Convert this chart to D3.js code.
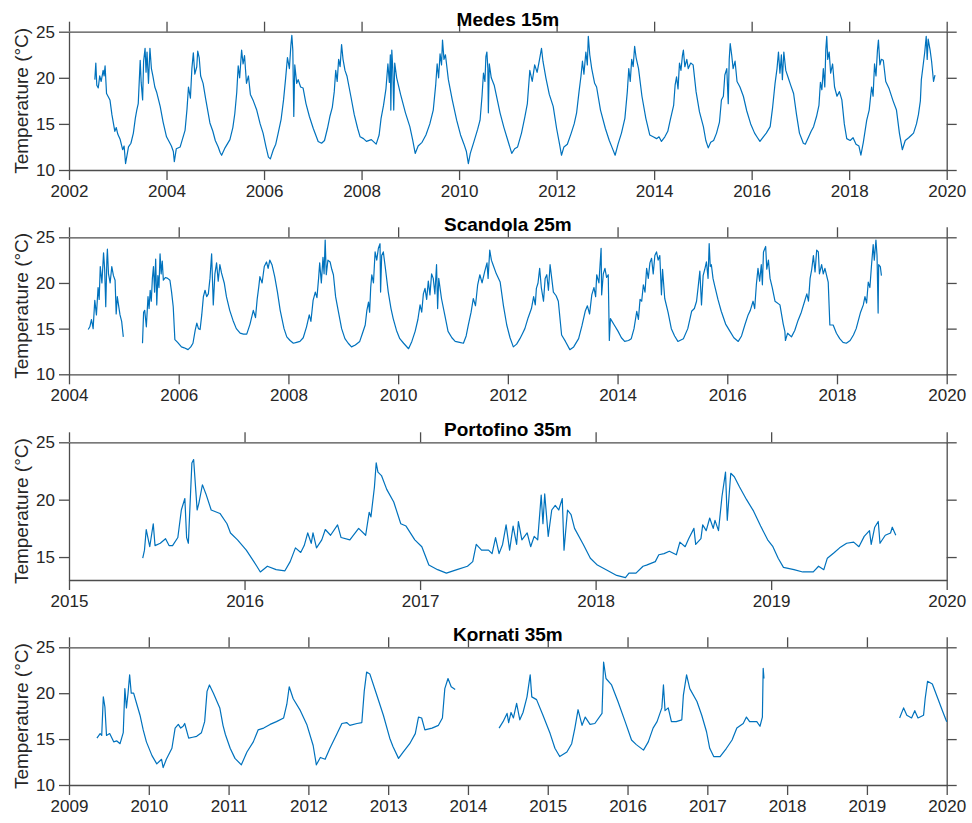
<html>
    <head>
        <style>
        body {
            margin: 0;
            background: white;
        }

        svg {
            font-family: "Liberation Sans", Arial, Helvetica, sans-serif;
        }

        .axis .domain, .axis .tick line {
            stroke: #4d4d4d;
            stroke-width: 1.3;
        }

        .axis text {
            fill: #262626;
            font-size: 17px;
        }

        .title {
            font-weight: bold;
            font-size: 19px;
            fill: #000;
        }

        .ylabel {
            font-size: 19px;
            fill: #262626;
        }
        </style>
    </head>
    <body>
        <div id="chart"></div>
        <script src="https://d3js.org/d3.v7.min.js"></script>
        <script>

            // [decimal year, temperature], null = gap in the record
            let medes = [
                [2002.53,19.8],[2002.55,21.6],[2002.57,19.2],[2002.6,18.9],[2002.63,20.2],[2002.66,19.6],[2002.7,20.8],[2002.72,20.2],[2002.74,21.3],[2002.77,18.3],[2002.8,18.0],[2002.84,17.6],[2002.88,16.0],[2002.94,14.2],[2002.97,14.6],[2003.0,13.9],[2003.05,13.3],[2003.1,12.2],[2003.13,12.6],[2003.16,10.7],[2003.22,12.5],[2003.27,12.9],[2003.32,14.0],[2003.36,15.6],[2003.39,16.5],[2003.42,17.2],[2003.46,21.9],[2003.48,19.5],[2003.51,17.6],[2003.53,21.8],[2003.56,23.2],[2003.58,20.6],[2003.6,22.8],[2003.63,19.4],[2003.66,23.2],[2003.69,21.0],[2003.72,20.2],[2003.76,19.0],[2003.8,18.4],[2003.87,16.9],[2003.93,15.2],
                [2004.0,13.6],[2004.06,13.0],[2004.1,12.6],[2004.14,12.0],[2004.16,10.9],[2004.2,12.3],[2004.28,12.5],[2004.33,13.4],[2004.38,14.3],[2004.42,16.6],[2004.45,19.0],[2004.49,17.8],[2004.52,21.0],[2004.55,22.7],[2004.58,20.4],[2004.62,21.2],[2004.64,22.9],[2004.67,22.2],[2004.7,20.2],[2004.75,19.4],[2004.8,17.8],[2004.89,15.1],[2004.95,14.2],
                [2005.0,13.2],[2005.06,12.5],[2005.1,11.9],[2005.13,11.6],[2005.2,12.4],[2005.3,13.3],[2005.36,14.6],[2005.4,16.1],[2005.44,18.4],[2005.47,21.3],[2005.5,20.0],[2005.54,23.0],[2005.57,21.5],[2005.6,22.4],[2005.64,19.4],[2005.68,20.2],[2005.72,18.2],[2005.78,17.5],[2005.85,16.5],[2005.92,15.0],[2005.98,14.0],
                [2006.04,12.5],[2006.09,11.4],[2006.13,11.2],[2006.19,12.2],[2006.24,12.8],[2006.29,14.0],[2006.35,15.5],[2006.4,17.6],[2006.44,19.8],[2006.48,22.2],[2006.52,21.0],[2006.55,23.5],[2006.57,24.6],[2006.59,23.0],[2006.61,15.8],[2006.63,21.4],[2006.67,19.4],[2006.7,19.8],[2006.75,19.0],[2006.8,18.9],[2006.86,17.2],[2006.93,15.8],
                [2007.01,14.5],[2007.06,13.8],[2007.11,13.1],[2007.18,12.9],[2007.24,13.2],[2007.3,14.5],[2007.35,15.8],[2007.4,16.8],[2007.44,18.5],[2007.47,20.8],[2007.5,19.6],[2007.53,22.0],[2007.56,21.2],[2007.59,23.6],[2007.62,22.0],[2007.66,20.8],[2007.7,20.2],[2007.78,18.0],[2007.85,16.0],[2007.92,14.5],[2007.97,13.6],
                [2008.04,13.4],[2008.1,13.1],[2008.2,13.3],[2008.3,12.8],[2008.36,13.8],[2008.4,15.6],[2008.45,17.0],[2008.5,18.8],[2008.54,21.5],[2008.57,19.5],[2008.59,22.5],[2008.6,16.5],[2008.62,23.0],[2008.64,21.0],[2008.66,16.5],[2008.68,21.6],[2008.72,20.0],[2008.8,18.2],[2008.9,16.2],[2008.99,14.7],
                [2009.05,13.2],[2009.1,11.8],[2009.16,12.6],[2009.24,13.0],[2009.32,13.8],[2009.4,15.0],[2009.47,16.5],[2009.52,19.2],[2009.55,21.5],[2009.58,20.0],[2009.61,22.6],[2009.64,21.4],[2009.66,24.1],[2009.69,22.0],[2009.72,22.5],[2009.78,19.8],[2009.86,17.6],[2009.95,15.4],
                [2010.03,13.8],[2010.1,12.8],[2010.15,12.0],[2010.19,10.7],[2010.23,11.8],[2010.3,13.0],[2010.38,14.4],[2010.43,15.4],[2010.47,18.0],[2010.5,20.5],[2010.53,19.6],[2010.55,22.3],[2010.57,22.8],[2010.59,21.0],[2010.6,16.2],[2010.62,21.5],[2010.66,20.0],[2010.72,19.2],[2010.84,16.2],[2010.92,14.6],
                [2011.0,13.2],[2011.08,11.8],[2011.14,12.3],[2011.2,12.5],[2011.28,14.0],[2011.35,15.8],[2011.4,17.2],[2011.45,20.8],[2011.5,19.6],[2011.55,21.4],[2011.6,20.6],[2011.65,22.0],[2011.69,23.2],[2011.72,21.8],[2011.78,20.0],[2011.85,18.2],[2011.93,16.9],
                [2012.0,14.5],[2012.06,12.8],[2012.1,11.6],[2012.15,12.5],[2012.22,12.8],[2012.3,14.0],[2012.36,15.0],[2012.41,16.2],[2012.46,18.5],[2012.5,20.2],[2012.53,21.8],[2012.56,20.4],[2012.6,22.8],[2012.63,21.4],[2012.65,24.5],[2012.68,22.5],[2012.72,21.0],[2012.78,19.4],[2012.82,19.0],[2012.9,16.5],
                [2013.0,14.5],[2013.08,13.2],[2013.14,12.4],[2013.2,11.6],[2013.26,12.8],[2013.33,14.0],[2013.4,15.6],[2013.45,18.5],[2013.48,21.0],[2013.51,19.6],[2013.54,22.0],[2013.57,21.2],[2013.6,23.4],[2013.63,22.2],[2013.68,21.0],[2013.75,18.0],[2013.83,15.6],[2013.91,13.8],[2013.98,13.6],
                [2014.05,13.4],[2014.1,13.6],[2014.15,13.1],[2014.22,13.6],[2014.28,14.2],[2014.33,15.4],[2014.4,17.0],[2014.43,19.2],[2014.46,20.1],[2014.49,18.8],[2014.52,21.6],[2014.55,20.8],[2014.58,22.4],[2014.6,23.0],[2014.63,21.2],[2014.67,22.0],[2014.7,21.0],[2014.75,21.6],[2014.8,21.4],[2014.86,18.5],[2014.93,16.3],
                [2015.01,14.7],[2015.06,13.2],[2015.11,12.4],[2015.16,13.0],[2015.22,13.2],[2015.28,14.0],[2015.34,15.2],[2015.38,17.6],[2015.42,18.0],[2015.45,20.3],[2015.49,21.0],[2015.52,17.2],[2015.54,22.0],[2015.56,23.7],[2015.59,22.5],[2015.62,21.0],[2015.66,21.8],[2015.7,19.6],[2015.76,19.0],[2015.83,18.0],[2015.9,16.4],[2015.98,15.0],
                [2016.06,14.0],[2016.12,13.5],[2016.17,13.1],[2016.24,13.6],[2016.3,14.0],[2016.38,14.7],[2016.43,16.8],[2016.48,19.4],[2016.52,21.0],[2016.55,22.8],[2016.58,20.5],[2016.61,22.5],[2016.63,19.8],[2016.66,22.8],[2016.7,20.8],[2016.75,20.0],[2016.8,19.2],[2016.86,18.3],[2016.92,16.0],[2016.98,14.0],
                [2017.06,12.9],[2017.1,12.8],[2017.17,13.6],[2017.22,14.2],[2017.27,14.7],[2017.33,15.8],[2017.38,17.0],[2017.41,19.5],[2017.44,18.7],[2017.47,21.0],[2017.5,19.0],[2017.52,23.0],[2017.54,24.5],[2017.56,22.0],[2017.59,22.8],[2017.62,20.5],[2017.66,21.5],[2017.7,19.0],[2017.75,18.0],[2017.8,18.5],[2017.85,17.6],[2017.9,15.0],[2017.95,13.4],
                [2018.02,13.2],[2018.08,13.5],[2018.14,12.8],[2018.2,12.6],[2018.24,11.6],[2018.29,13.0],[2018.36,15.4],[2018.41,16.5],[2018.46,19.0],[2018.49,18.0],[2018.52,21.5],[2018.55,20.2],[2018.58,23.0],[2018.6,24.1],[2018.63,21.4],[2018.66,22.0],[2018.7,21.9],[2018.75,19.6],[2018.82,18.8],[2018.9,17.5],[2018.97,16.5],
                [2019.03,14.0],[2019.09,12.2],[2019.15,13.2],[2019.22,13.5],[2019.28,13.8],[2019.32,14.0],[2019.38,15.0],[2019.42,16.0],[2019.46,17.5],[2019.48,19.8],[2019.52,21.5],[2019.55,22.8],[2019.58,24.5],[2019.6,22.0],[2019.62,24.2],[2019.66,23.0],[2019.69,21.8],[2019.73,19.6],[2019.76,20.3]
            ]

            let scandola = [
                [2004.35,14.9],[2004.38,15.2],[2004.41,16.0],[2004.44,15.0],[2004.47,18.1],[2004.5,16.5],[2004.53,19.5],[2004.55,18.2],[2004.57,21.8],[2004.6,20.0],[2004.63,23.3],[2004.65,21.5],[2004.67,17.4],[2004.69,22.5],[2004.7,23.7],[2004.72,21.0],[2004.75,20.0],[2004.78,21.8],[2004.81,20.8],[2004.84,20.3],[2004.86,16.6],[2004.88,18.5],[2004.93,16.5],[2004.96,15.8],[2004.99,14.1],
                null,
                [2005.34,13.4],[2005.36,16.8],[2005.38,17.0],[2005.41,15.2],[2005.44,18.5],[2005.46,17.2],[2005.48,19.2],[2005.5,18.0],[2005.52,20.5],[2005.54,21.8],[2005.56,19.0],[2005.58,22.6],[2005.6,17.6],[2005.62,20.8],[2005.64,19.5],[2005.66,23.2],[2005.68,21.0],[2005.7,22.4],[2005.72,20.3],[2005.76,20.6],[2005.8,20.5],[2005.84,20.3],[2005.87,19.0],[2005.9,17.4],[2005.93,13.8],[2005.98,13.5],
                [2006.05,13.0],[2006.1,12.9],[2006.17,12.7],[2006.22,13.0],[2006.26,13.4],[2006.3,14.8],[2006.33,15.6],[2006.36,15.0],[2006.39,14.9],[2006.42,16.5],[2006.45,18.5],[2006.48,19.2],[2006.51,18.5],[2006.54,18.8],[2006.57,20.5],[2006.6,23.2],[2006.62,19.5],[2006.63,17.6],[2006.66,21.0],[2006.69,22.2],[2006.72,20.2],[2006.75,22.0],[2006.78,21.1],[2006.83,20.0],[2006.87,18.5],[2006.93,17.0],[2006.99,15.9],
                [2007.05,15.0],[2007.12,14.5],[2007.18,14.4],[2007.24,14.4],[2007.3,15.5],[2007.36,17.0],[2007.4,16.2],[2007.43,18.2],[2007.46,19.6],[2007.48,20.7],[2007.52,20.0],[2007.56,21.8],[2007.6,22.3],[2007.63,21.6],[2007.66,22.5],[2007.7,22.0],[2007.75,20.7],[2007.8,19.0],[2007.85,17.0],[2007.92,15.0],[2007.97,14.1],
                [2008.03,13.7],[2008.09,13.4],[2008.15,13.5],[2008.21,13.6],[2008.27,14.0],[2008.33,15.2],[2008.38,16.5],[2008.41,15.8],[2008.45,18.1],[2008.49,19.0],[2008.52,18.4],[2008.55,20.5],[2008.57,22.2],[2008.6,20.0],[2008.63,22.8],[2008.65,21.0],[2008.67,24.7],[2008.69,20.9],[2008.72,22.5],[2008.76,22.3],[2008.79,21.5],[2008.82,20.9],[2008.86,18.5],[2008.91,16.9],[2008.97,15.0],
                [2009.03,13.9],[2009.09,13.4],[2009.15,13.0],[2009.22,13.2],[2009.3,13.6],[2009.35,14.5],[2009.4,15.4],[2009.43,17.0],[2009.46,17.9],[2009.48,16.8],[2009.5,19.5],[2009.52,20.9],[2009.55,20.0],[2009.58,23.4],[2009.61,22.5],[2009.64,23.8],[2009.67,24.3],[2009.68,19.0],[2009.7,23.0],[2009.73,23.4],[2009.77,21.5],[2009.82,19.0],[2009.87,17.2],[2009.91,16.1],[2009.97,14.8],
                [2010.03,13.9],[2010.1,13.4],[2010.19,12.8],[2010.25,13.6],[2010.31,14.7],[2010.36,16.0],[2010.4,17.6],[2010.43,16.8],[2010.46,18.8],[2010.49,19.4],[2010.52,18.2],[2010.55,20.2],[2010.58,18.7],[2010.61,21.0],[2010.64,20.5],[2010.67,18.8],[2010.7,22.0],[2010.72,17.2],[2010.74,20.5],[2010.79,18.3],[2010.85,16.5],[2010.91,14.7],[2010.98,14.0],
                [2011.04,13.6],[2011.12,13.5],[2011.19,13.4],[2011.24,14.2],[2011.28,15.4],[2011.33,16.8],[2011.37,18.3],[2011.41,17.5],[2011.45,19.8],[2011.49,20.9],[2011.53,20.0],[2011.58,21.3],[2011.62,22.2],[2011.64,20.5],[2011.67,23.6],[2011.7,22.5],[2011.73,22.0],[2011.79,21.0],[2011.86,20.1],[2011.92,17.5],[2011.98,15.4],
                [2012.04,14.0],[2012.1,13.0],[2012.16,13.3],[2012.22,13.9],[2012.27,14.5],[2012.31,15.0],[2012.37,16.2],[2012.43,17.2],[2012.47,18.5],[2012.5,17.6],[2012.52,19.4],[2012.55,20.0],[2012.58,21.6],[2012.61,19.5],[2012.65,18.0],[2012.68,20.5],[2012.71,20.9],[2012.74,19.2],[2012.77,22.0],[2012.8,20.5],[2012.83,19.0],[2012.88,18.6],[2012.92,18.0],[2012.98,14.3],
                [2013.05,13.6],[2013.13,12.7],[2013.2,13.0],[2013.29,13.9],[2013.35,15.3],[2013.41,16.9],[2013.45,17.5],[2013.49,16.6],[2013.53,18.7],[2013.57,19.5],[2013.6,18.5],[2013.62,20.9],[2013.66,20.0],[2013.7,23.8],[2013.71,18.7],[2013.74,21.0],[2013.77,21.6],[2013.8,20.6],[2013.83,20.9],[2013.85,13.7],[2013.87,16.1],[2013.94,15.4],
                [2014.01,14.7],[2014.07,14.0],[2014.13,13.6],[2014.2,13.7],[2014.25,13.9],[2014.3,15.0],[2014.35,16.9],[2014.38,16.0],[2014.41,18.2],[2014.44,18.0],[2014.47,19.8],[2014.5,19.0],[2014.53,21.6],[2014.56,20.5],[2014.59,22.2],[2014.62,22.7],[2014.65,21.0],[2014.68,23.0],[2014.71,23.4],[2014.74,22.5],[2014.77,23.0],[2014.8,18.7],[2014.82,21.5],[2014.86,18.3],[2014.92,16.8],[2014.98,15.0],
                [2015.04,14.2],[2015.1,13.6],[2015.2,13.9],[2015.28,15.0],[2015.35,16.9],[2015.4,17.2],[2015.44,18.0],[2015.47,19.6],[2015.5,21.3],[2015.53,17.6],[2015.56,20.8],[2015.59,21.5],[2015.62,22.3],[2015.65,20.5],[2015.67,24.3],[2015.69,21.8],[2015.71,22.0],[2015.74,20.5],[2015.77,19.7],[2015.83,18.2],[2015.89,16.9],[2015.97,15.5],
                [2016.05,14.7],[2016.12,14.0],[2016.2,13.6],[2016.26,14.2],[2016.32,15.4],[2016.38,16.5],[2016.42,17.0],[2016.47,18.0],[2016.5,17.2],[2016.53,19.8],[2016.56,21.6],[2016.59,20.2],[2016.62,22.0],[2016.64,19.8],[2016.66,23.4],[2016.7,24.0],[2016.72,21.5],[2016.75,22.5],[2016.78,20.5],[2016.82,19.5],[2016.87,18.0],[2016.96,17.6],
                [2017.02,15.5],[2017.05,14.7],[2017.06,13.7],[2017.1,14.5],[2017.17,14.1],[2017.23,14.8],[2017.29,15.9],[2017.35,16.8],[2017.41,18.0],[2017.45,18.8],[2017.48,18.0],[2017.51,20.5],[2017.54,21.5],[2017.57,23.0],[2017.6,21.2],[2017.63,23.6],[2017.66,23.4],[2017.68,21.0],[2017.72,22.0],[2017.75,21.0],[2017.78,21.6],[2017.84,20.1],[2017.87,15.4],[2017.93,15.4],[2017.99,14.5],
                [2018.05,13.9],[2018.11,13.5],[2018.17,13.4],[2018.24,13.7],[2018.3,14.3],[2018.35,15.0],[2018.39,15.9],[2018.43,16.8],[2018.48,17.6],[2018.51,18.5],[2018.54,17.8],[2018.57,20.1],[2018.6,19.5],[2018.63,22.0],[2018.66,24.2],[2018.68,22.5],[2018.71,24.7],[2018.73,23.0],[2018.75,16.7],[2018.76,22.0],[2018.79,21.8],[2018.81,20.8]
            ]

            let portofino = [
                [2015.42,14.9],[2015.43,15.6],[2015.44,17.4],[2015.46,15.9],[2015.48,17.9],[2015.49,16.0],[2015.52,16.2],[2015.55,16.6],[2015.57,16.0],[2015.59,16.0],[2015.62,16.7],[2015.64,19.1],[2015.66,20.1],[2015.67,16.7],[2015.68,16.2],[2015.7,23.2],[2015.71,23.5],[2015.73,19.1],[2015.74,19.7],[2015.76,21.3],[2015.77,20.9],[2015.78,20.5],[2015.81,19.1],[2015.86,18.8],[2015.9,17.9],[2015.92,17.1],[2015.96,16.5],
                [2016.01,15.6],[2016.07,14.2],[2016.09,13.7],[2016.13,14.2],[2016.18,13.9],[2016.23,13.8],[2016.26,14.6],[2016.29,15.8],[2016.32,15.4],[2016.34,16.0],[2016.36,17.1],[2016.38,16.2],[2016.39,17.1],[2016.41,15.8],[2016.44,16.5],[2016.46,17.4],[2016.49,16.9],[2016.53,17.8],[2016.55,16.7],[2016.6,16.5],[2016.65,17.5],[2016.69,16.9],[2016.71,18.9],[2016.72,18.5],[2016.74,21.1],[2016.75,23.2],[2016.76,22.4],[2016.78,22.1],[2016.81,20.9],[2016.85,19.8],[2016.89,17.9],[2016.92,17.7],[2016.97,16.5],
                [2017.01,15.9],[2017.05,14.3],[2017.1,13.9],[2017.15,13.6],[2017.21,13.9],[2017.27,14.2],[2017.3,14.6],[2017.32,16.1],[2017.35,15.6],[2017.39,15.6],[2017.41,15.3],[2017.43,16.7],[2017.45,15.3],[2017.47,16.1],[2017.49,17.8],[2017.51,15.6],[2017.53,17.7],[2017.55,16.1],[2017.56,18.1],[2017.58,16.5],[2017.61,17.1],[2017.63,15.9],[2017.65,16.8],[2017.67,16.5],[2017.69,20.4],[2017.7,17.9],[2017.71,20.5],[2017.73,16.8],[2017.75,19.1],[2017.77,19.5],[2017.79,19.1],[2017.81,20.1],[2017.82,15.6],[2017.84,19.1],[2017.86,18.7],[2017.88,17.5],[2017.93,16.1],[2017.97,14.9],
                [2018.01,14.3],[2018.06,13.9],[2018.12,13.4],[2018.17,13.2],[2018.19,13.6],[2018.23,13.6],[2018.27,14.2],[2018.29,14.3],[2018.34,14.6],[2018.36,15.2],[2018.39,15.3],[2018.42,15.5],[2018.46,15.2],[2018.48,16.3],[2018.51,15.9],[2018.53,16.6],[2018.56,17.5],[2018.57,16.1],[2018.6,16.6],[2018.61,17.8],[2018.63,17.3],[2018.65,18.4],[2018.67,17.5],[2018.68,18.2],[2018.7,17.3],[2018.72,20.3],[2018.74,22.4],[2018.75,18.2],[2018.76,20.3],[2018.77,22.3],[2018.79,22.0],[2018.82,21.1],[2018.86,20.0],[2018.9,19.0],[2018.94,17.7],[2018.98,16.5],
                [2019.01,15.9],[2019.04,14.9],[2019.07,14.1],[2019.13,13.9],[2019.18,13.7],[2019.24,13.7],[2019.27,14.2],[2019.3,13.9],[2019.32,14.9],[2019.36,15.4],[2019.39,15.8],[2019.43,16.2],[2019.47,16.3],[2019.5,15.9],[2019.53,16.8],[2019.56,17.3],[2019.57,16.1],[2019.59,17.6],[2019.61,18.1],[2019.62,16.2],[2019.65,16.9],[2019.68,17.1],[2019.69,17.6],[2019.71,16.9]
            ]

            let kornati = [
                [2009.35,15.1],[2009.39,15.6],[2009.41,15.4],[2009.43,19.6],[2009.45,18.5],[2009.47,15.4],[2009.51,15.6],[2009.56,14.7],[2009.6,14.8],[2009.64,14.5],[2009.68,15.7],[2009.7,20.5],[2009.72,18.4],[2009.74,20.0],[2009.76,22.0],[2009.78,20.0],[2009.81,20.0],[2009.85,18.8],[2009.89,17.6],[2009.93,16.0],[2009.97,14.7],
                [2010.04,13.2],[2010.1,12.3],[2010.16,12.8],[2010.18,11.9],[2010.22,12.8],[2010.29,14.0],[2010.33,16.2],[2010.37,16.6],[2010.4,16.2],[2010.43,16.4],[2010.45,16.7],[2010.5,15.1],[2010.55,15.2],[2010.6,15.3],[2010.66,15.7],[2010.7,16.9],[2010.73,20.2],[2010.76,20.9],[2010.81,20.0],[2010.89,18.4],[2010.93,16.5],[2010.96,15.5],
                [2011.02,14.0],[2011.08,12.9],[2011.16,12.2],[2011.23,13.6],[2011.31,14.7],[2011.37,16.0],[2011.44,16.2],[2011.52,16.6],[2011.6,16.9],[2011.69,17.3],[2011.73,18.8],[2011.76,20.7],[2011.81,19.4],[2011.9,18.1],[2011.98,16.6],
                [2012.06,14.3],[2012.1,12.2],[2012.15,13.0],[2012.21,12.8],[2012.27,14.0],[2012.36,15.6],[2012.42,16.7],[2012.48,16.8],[2012.52,16.5],[2012.61,16.7],[2012.67,16.8],[2012.7,20.2],[2012.73,22.3],[2012.77,22.1],[2012.85,20.0],[2012.94,17.6],
                [2013.02,15.1],[2013.06,14.2],[2013.13,12.9],[2013.19,13.6],[2013.27,14.5],[2013.34,15.6],[2013.38,17.4],[2013.42,17.3],[2013.46,16.0],[2013.55,16.2],[2013.63,16.5],[2013.68,17.3],[2013.71,20.5],[2013.75,21.6],[2013.79,20.7],[2013.84,20.4],
                null,
                [2014.39,16.2],[2014.44,16.9],[2014.49,17.8],[2014.51,16.8],[2014.54,17.9],[2014.57,17.3],[2014.61,18.9],[2014.65,17.1],[2014.69,17.9],[2014.74,19.6],[2014.78,22.0],[2014.8,19.6],[2014.86,19.3],[2014.94,17.6],
                [2015.03,15.6],[2015.09,14.0],[2015.15,13.1],[2015.24,13.6],[2015.3,14.5],[2015.34,16.2],[2015.38,18.2],[2015.43,16.5],[2015.47,17.4],[2015.53,16.6],[2015.59,16.7],[2015.68,17.8],[2015.7,23.4],[2015.73,21.6],[2015.8,20.9],[2015.88,19.1],[2015.97,16.9],
                [2016.05,14.9],[2016.11,14.4],[2016.2,13.8],[2016.26,14.7],[2016.32,16.2],[2016.37,16.9],[2016.43,18.4],[2016.45,20.9],[2016.47,18.1],[2016.51,18.4],[2016.55,16.9],[2016.61,16.9],[2016.68,17.1],[2016.7,19.8],[2016.74,22.0],[2016.78,20.5],[2016.87,19.1],[2016.93,17.6],[2016.99,15.8],
                [2017.03,14.0],[2017.08,13.1],[2017.16,13.1],[2017.24,14.0],[2017.31,14.9],[2017.37,16.2],[2017.45,16.7],[2017.49,17.4],[2017.53,16.9],[2017.62,16.9],[2017.66,16.4],[2017.69,17.4],[2017.7,22.7],[2017.71,21.6],
                null,
                [2019.41,17.3],[2019.46,18.4],[2019.5,17.6],[2019.56,17.3],[2019.6,18.1],[2019.64,17.3],[2019.71,17.6],[2019.73,19.4],[2019.76,21.3],[2019.82,21.0],[2019.89,19.4],[2019.95,18.0],[2020.0,16.9]
            ]

            let titles = ["Medes 15m", "Scandola 25m", "Portofino 35m", "Kornati 35m"]
            let series = [medes, scandola, portofino, kornati]
            let xDomains = [[2002, 2020], [2004, 2020], [2015, 2020], [2009, 2020]]
            let xTicks = [
                [2002, 2004, 2006, 2008, 2010, 2012, 2014, 2016, 2018, 2020],
                [2004, 2006, 2008, 2010, 2012, 2014, 2016, 2018, 2020],
                [2015, 2016, 2017, 2018, 2019, 2020],
                [2009, 2010, 2011, 2012, 2013, 2014, 2015, 2016, 2017, 2018, 2019, 2020]
            ]
            let yDomains = [[10, 25], [10, 25], [13, 25], [10, 25]]
            let yTicks = [[10, 15, 20, 25], [10, 15, 20, 25], [15, 20, 25], [10, 15, 20, 25]]

            let width = 972
            let height = 823
            let left = 69, right = 946.7
            let panels = [   // top and bottom of each axes box
                {top: 31.7, bottom: 170},
                {top: 237.3, bottom: 374.3},
                {top: 442.3, bottom: 580},
                {top: 647.3, bottom: 785}
            ]
            let tick = 10

            let svg = d3.select("#chart")
                .append("svg")
                .attr("width", width)
                .attr("height", height)

            series.forEach((data, i) => {
                let p = panels[i]

                let x = d3.scaleLinear()
                    .domain(xDomains[i])
                    .range([left, right])

                let y = d3.scaleLinear()
                    .domain(yDomains[i])
                    .range([p.bottom, p.top])

                let g = svg.append("g")

                // box with outward ticks on every side
                g.append("g")
                    .attr("class", "axis")
                    .attr("transform", `translate(0, ${p.bottom})`)
                    .call(d3.axisBottom(x).tickValues(xTicks[i]).tickFormat(d3.format("d")).tickSize(tick).tickSizeOuter(0).tickPadding(5))

                g.append("g")
                    .attr("class", "axis")
                    .attr("transform", `translate(0, ${p.top})`)
                    .call(d3.axisTop(x).tickValues(xTicks[i]).tickFormat("").tickSize(tick).tickSizeOuter(0))

                g.append("g")
                    .attr("class", "axis")
                    .attr("transform", `translate(${left}, 0)`)
                    .call(d3.axisLeft(y).tickValues(yTicks[i]).tickSize(tick).tickSizeOuter(0).tickPadding(4))

                g.append("g")
                    .attr("class", "axis")
                    .attr("transform", `translate(${right}, 0)`)
                    .call(d3.axisRight(y).tickValues(yTicks[i]).tickFormat("").tickSize(tick).tickSizeOuter(0))

                g.selectAll(".axis text").attr("font-family", null)
                g.selectAll(".axis").attr("font-size", null)

                let line = d3.line()
                    .defined(d => d !== null)
                    .x(d => x(d[0]))
                    .y(d => y(d[1]))

                g.append("path")
                    .datum(data)
                    .attr("fill", "none")
                    .attr("stroke", "#0072BD")
                    .attr("stroke-width", 1.2)
                    .attr("stroke-linejoin", "round")
                    .attr("d", line)

                g.append("text")
                    .attr("class", "title")
                    .attr("x", (left + right) / 2)
                    .attr("y", p.top - 6)
                    .attr("text-anchor", "middle")
                    .text(titles[i])

                g.append("text")
                    .attr("class", "ylabel")
                    .attr("text-anchor", "middle")
                    .attr("transform", `translate(27.5, ${(p.top + p.bottom) / 2}) rotate(-90)`)
                    .text("Temperature (°C)")
            })

        </script>
    </body>
</html>
